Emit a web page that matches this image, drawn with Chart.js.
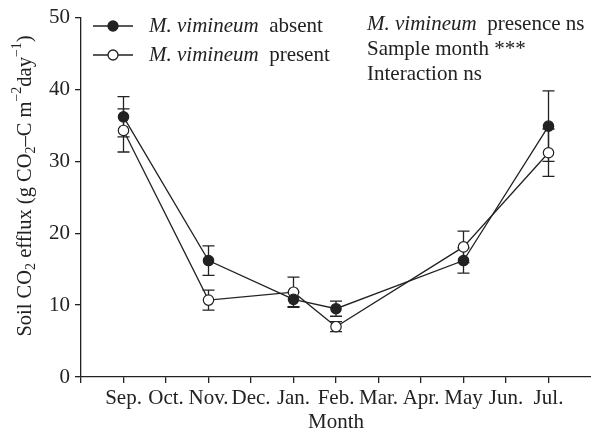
<!DOCTYPE html>
<html>
<head>
<meta charset="utf-8">
<script src="https://cdn.jsdelivr.net/npm/chart.js@4/dist/chart.umd.min.js"></script>
<style>
  html, body { margin: 0; padding: 0; background: #fff; }
  #wrap { width: 591px; height: 435px; }
</style>
</head>
<body>
<div id="wrap"><canvas id="effluxChart"></canvas></div>
<script>
// month labels sit on integer positions 0..10
const months = ['Sep.', 'Oct.', 'Nov.', 'Dec.', 'Jan.', 'Feb.', 'Mar.', 'Apr.', 'May', 'Jun.', 'Jul.'];
const sampledIdx = [0, 2, 4, 5, 8, 10];

const absentMean = [36.2, 16.2, 10.8, 9.5, 16.2, 34.9];
const absentSE   = [2.8, 2.05, 1.0, 1.05, 1.75, 4.9];
const presentMean = [34.3, 10.7, 11.8, 7.0, 18.1, 31.2];
const presentSE   = [3.0, 1.4, 2.1, 0.7, 2.2, 3.3];

const yTicks = [0, 10, 20, 30, 40, 50];

const INK = '#222';
const SERIF = '"Liberation Serif", "DejaVu Serif", serif';
const FS = 21;

const toPoints = (means) => sampledIdx.map((x, i) => ({ x: x, y: means[i] }));

// draw a run of text pieces: [text, italic, shift] where shift is 'sub' | 'sup' | undefined
function drawRich(ctx, pieces, x, y, size) {
    let cx = x;
    pieces.forEach(([text, italic, shift]) => {
        const s = shift ? size * 0.68 : size;
        ctx.font = (italic ? 'italic ' : '') + s + 'px ' + SERIF;
        let dy = 0;
        if (shift === 'sub') dy = size * 0.28;
        if (shift === 'sup') dy = -size * 0.4;
        ctx.fillText(text, cx, y + dy);
        cx += ctx.measureText(text).width;
    });
    return cx - x;
}

function richWidth(ctx, pieces, size) {
    let w = 0;
    pieces.forEach(([text, italic, shift]) => {
        const s = shift ? size * 0.68 : size;
        ctx.font = (italic ? 'italic ' : '') + s + 'px ' + SERIF;
        w += ctx.measureText(text).width;
    });
    return w;
}

const errorBars = {
    id: 'errorBars',
    beforeDatasetsDraw(chart) {
        const { ctx, scales: { x, y } } = chart;
        const sets = [[absentMean, absentSE], [presentMean, presentSE]];
        ctx.save();
        ctx.strokeStyle = INK;
        ctx.lineWidth = 1.3;
        sets.forEach(([means, se]) => {
            means.forEach((m, i) => {
                const px = x.getPixelForValue(sampledIdx[i]);
                const top = y.getPixelForValue(m + se[i]);
                const bot = y.getPixelForValue(m - se[i]);
                ctx.beginPath();
                ctx.moveTo(px, top); ctx.lineTo(px, bot);
                ctx.moveTo(px - 6, top); ctx.lineTo(px + 6, top);
                ctx.moveTo(px - 6, bot); ctx.lineTo(px + 6, bot);
                ctx.stroke();
            });
        });
        ctx.restore();
    }
};

const annotations = {
    id: 'annotations',
    afterDraw(chart) {
        const ctx = chart.ctx;
        ctx.save();
        ctx.fillStyle = INK;
        ctx.strokeStyle = INK;
        ctx.textBaseline = 'middle';
        ctx.textAlign = 'left';

        // legend
        const rows = [['absent', true, 26], ['present', false, 55]];
        rows.forEach(([word, filled, ly]) => {
            ctx.lineWidth = 1.3;
            ctx.beginPath();
            ctx.moveTo(93, ly); ctx.lineTo(133, ly);
            ctx.stroke();
            ctx.beginPath();
            ctx.arc(113, ly, 5, 0, Math.PI * 2);
            ctx.fillStyle = filled ? INK : '#fff';
            ctx.fill();
            ctx.stroke();
            ctx.fillStyle = INK;
            drawRich(ctx, [['M. vimineum', true], ['  ' + word, false]], 149, ly, FS);
        });

        // statistics
        drawRich(ctx, [['M. vimineum', true], ['  presence ns', false]], 367, 24, FS);
        drawRich(ctx, [['Sample month ***', false]], 367, 49, FS);
        drawRich(ctx, [['Interaction ns', false]], 367, 74, FS);

        // y axis title
        const title = [
            ['Soil CO', false], ['2', false, 'sub'], [' efflux (g CO', false], ['2', false, 'sub'],
            ['\u2013C m', false], ['\u22122', false, 'sup'], ['day', false], ['\u22121', false, 'sup'], [')', false]
        ];
        ctx.translate(26, 186);
        ctx.rotate(-Math.PI / 2);
        const w = richWidth(ctx, title, 20.5);
        drawRich(ctx, title, -w / 2, 0, 20.5);
        ctx.restore();
    }
};

const ctx = document.getElementById('effluxChart').getContext('2d');
new Chart(ctx, {
    type: 'line',
    data: {
        datasets: [
            {
                label: 'M. vimineum absent',
                data: toPoints(absentMean),
                borderColor: INK,
                borderWidth: 1.3,
                pointBackgroundColor: INK,
                pointBorderColor: INK,
                pointBorderWidth: 1.2,
                pointRadius: 5.2,
                fill: false,
                tension: 0
            },
            {
                label: 'M. vimineum present',
                data: toPoints(presentMean),
                borderColor: INK,
                borderWidth: 1.3,
                pointBackgroundColor: '#fff',
                pointBorderColor: INK,
                pointBorderWidth: 1.2,
                pointRadius: 5.2,
                fill: false,
                tension: 0
            }
        ]
    },
    options: {
        responsive: true,
        maintainAspectRatio: false,
        animation: false,
        layout: { autoPadding: false, padding: { top: 17, right: 0, left: 0, bottom: 0 } },
        plugins: {
            legend: { display: false },
            tooltip: { enabled: false }
        },
        scales: {
            x: {
                type: 'linear',
                min: -1,
                max: 11,
                afterFit: (scale) => {
                    scale.height = 58;
                    scale.paddingLeft = 0;
                    scale.paddingRight = 0;
                },
                afterBuildTicks: (scale) => {
                    scale.ticks = [];
                    for (let i = -1; i <= 10; i++) scale.ticks.push({ value: i });
                },
                ticks: {
                    autoSkip: false,
                    maxRotation: 0,
                    color: INK,
                    padding: 3,
                    font: { family: SERIF, size: FS },
                    callback: (v) => months[v] !== undefined ? months[v] : ''
                },
                grid: { drawOnChartArea: false, drawTicks: true, tickLength: 6, color: INK, lineWidth: 1.3 },
                border: { display: true, color: INK, width: 1.3 },
                title: {
                    display: true,
                    text: 'Month',
                    color: INK,
                    padding: { top: 4, bottom: 0 },
                    font: { family: SERIF, size: FS }
                }
            },
            y: {
                min: 0,
                max: 50,
                afterFit: (scale) => { scale.width = 81; },
                afterBuildTicks: (scale) => {
                    scale.ticks = yTicks.map(v => ({ value: v }));
                },
                ticks: {
                    color: INK,
                    padding: 5,
                    font: { family: SERIF, size: FS }
                },
                grid: { drawOnChartArea: false, drawTicks: true, tickLength: 6, color: INK, lineWidth: 1.3 },
                border: { display: true, color: INK, width: 1.3 }
            }
        }
    },
    plugins: [errorBars, annotations]
});
</script>
</body>
</html>
